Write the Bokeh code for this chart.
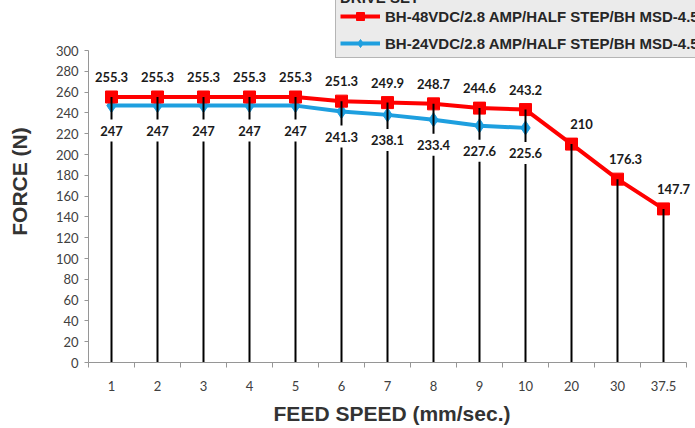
from bokeh.plotting import figure
from bokeh.models import FixedTicker, Range1d, Legend, LegendItem
from bokeh.core.properties import value
from bokeh.embed import file_html
from bokeh.resources import INLINE

# ---- data ----
speeds = ["1", "2", "3", "4", "5", "6", "7", "8", "9", "10", "20", "30", "37.5"]
force_48v = [255.3, 255.3, 255.3, 255.3, 255.3, 251.3, 249.9, 248.7, 244.6, 243.2, 210, 176.3, 147.7]
force_24v = [247, 247, 247, 247, 247, 241.3, 238.1, 233.4, 227.6, 225.6]
y_ticks = list(range(0, 301, 20))
label_48v = "BH-48VDC/2.8 AMP/HALF STEP/BH MSD-4.5"
label_24v = "BH-24VDC/2.8 AMP/HALF STEP/BH MSD-4.5"

RED = "#ff0000"
BLUE = "#1e9fdf"
AXIS = "#969696"

idx_48 = list(range(len(force_48v)))
idx_24 = list(range(len(force_24v)))

# frame spans to the top and right edge of the canvas so the legend (partly
# outside the plotted area) is not clipped; axes are bounded to the data area
Y_MAX = 300
PX_PER_UNIT = 312 / Y_MAX
y_top = Y_MAX + 50 / PX_PER_UNIT
x_lo, x_hi = -0.5, len(speeds) - 0.5
x_end = x_hi + 9 / 46

p = figure(width=695, height=428, output_backend="svg", toolbar_location=None,
           title=None,
           x_range=Range1d(x_lo, x_end), y_range=Range1d(0, y_top),
           min_border_left=88, min_border_right=0, min_border_top=0, min_border_bottom=66)
p.outline_line_color = None
p.xgrid.visible = False
p.ygrid.visible = False

# y axis
p.yaxis.ticker = FixedTicker(ticks=y_ticks)
p.yaxis.bounds = (0, Y_MAX)
p.yaxis.axis_line_color = AXIS
p.yaxis.major_tick_line_color = AXIS
p.yaxis.major_tick_out = 4
p.yaxis.major_tick_in = 0
p.yaxis.minor_tick_line_color = None
p.yaxis.major_label_standoff = 6
p.yaxis.major_label_text_font = "Lato"
p.yaxis.major_label_text_font_size = "13px"
p.yaxis.major_label_text_color = "#404040"
p.yaxis.axis_label = "FORCE (N)"
p.yaxis.axis_label_text_font = "Liberation Sans"
p.yaxis.axis_label_text_font_style = "bold"
p.yaxis.axis_label_text_font_size = "21px"
p.yaxis.axis_label_text_color = "#333333"
p.yaxis.axis_label_standoff = 22

# x axis (category centres labelled, ticks at boundaries)
p.xaxis.ticker = FixedTicker(ticks=list(range(len(speeds))),
                             minor_ticks=[i - 0.5 for i in range(len(speeds) + 1)])
p.xaxis.bounds = (x_lo, x_hi)
p.xaxis.major_label_overrides = {i: s for i, s in enumerate(speeds)}
p.xaxis.axis_line_color = AXIS
p.xaxis.major_tick_line_color = None
p.xaxis.major_tick_out = 0
p.xaxis.major_tick_in = 0
p.xaxis.minor_tick_line_color = AXIS
p.xaxis.minor_tick_out = 5
p.xaxis.minor_tick_in = 0
p.xaxis.major_label_standoff = 13
p.xaxis.major_label_text_font = "Lato"
p.xaxis.major_label_text_font_size = "13px"
p.xaxis.major_label_text_color = "#404040"
p.xaxis.axis_label = "FEED SPEED (mm/sec.)"
p.xaxis.axis_label_text_font = "Liberation Sans"
p.xaxis.axis_label_text_font_style = "bold"
p.xaxis.axis_label_text_font_size = "21px"
p.xaxis.axis_label_text_color = "#333333"
p.xaxis.axis_label_standoff = 8

# series
b_line = p.line(idx_24, force_24v, line_color=BLUE, line_width=4)
b_pts = p.scatter(idx_24, force_24v, marker="diamond", size=14, fill_color=BLUE, line_color=BLUE)
r_line = p.line(idx_48, force_48v, line_color=RED, line_width=4)
r_pts = p.scatter(idx_48, force_48v, marker="square", size=12, fill_color=RED, line_color=RED)

# drop lines
p.segment(x0=idx_48, y0=[0] * len(idx_48), x1=idx_48, y1=force_48v, line_color="black", line_width=2)

# data labels
p.text(x=idx_24, y=force_24v, text=[f"{v:g}" for v in force_24v],
       text_align="center", text_baseline="middle", y_offset=25,
       text_font=value("Lato"), text_font_style="bold", text_font_size="13px",
       text_color="#1a1a1a", background_fill_color="white", padding=6)
x_off_48 = [0] * 10 + [10, 8, 10]
p.text(x=idx_48, y=force_48v, text=[f"{v:g}" for v in force_48v],
       text_align="center", text_baseline="middle", y_offset=-20, x_offset=x_off_48,
       text_font=value("Lato"), text_font_style="bold", text_font_size="13px",
       text_color="#1a1a1a")

legend = Legend(items=[LegendItem(label=label_48v, renderers=[r_line, r_pts]),
                       LegendItem(label=label_24v, renderers=[b_line, b_pts])],
                location=(247, 304), title="DRIVE SET",
                title_text_font="Liberation Sans", title_text_font_style="bold",
                title_text_font_size="15px", title_text_color="#262626", title_standoff=0,
                label_text_font="Liberation Sans", label_text_font_style="bold",
                label_text_font_size="15px", label_text_color="#262626",
                glyph_width=40, glyph_height=20, label_height=20, label_standoff=5,
                spacing=7, padding=4, margin=0,
                background_fill_color="#ebebeb", background_fill_alpha=1,
                border_line_color="#7f7f7f", border_line_width=1)
p.add_layout(legend)

open("out.html", "w").write(file_html(p, INLINE))
